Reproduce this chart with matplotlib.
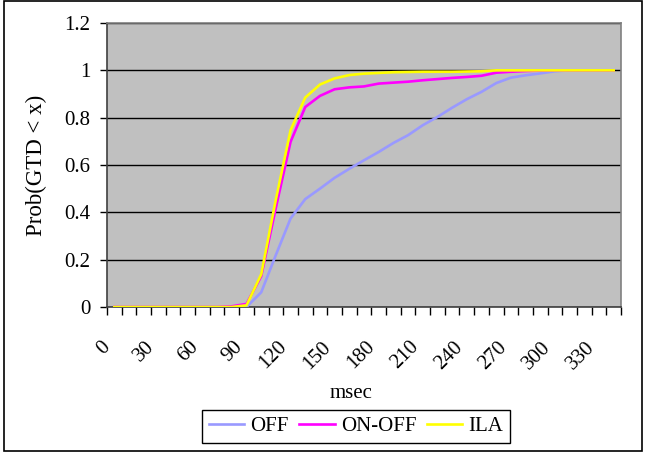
import matplotlib
matplotlib.use("Agg")
import matplotlib.pyplot as plt
from matplotlib.patches import Rectangle

# данные: вероятность Prob(GTD < x), шаг 10 мс
msec = list(range(0, 350, 10))
off = [0, 0, 0, 0, 0, 0, 0, 0, 0, 0,
       0.062, 0.22, 0.374, 0.456, 0.50, 0.546, 0.584, 0.62, 0.655, 0.693,
       0.726, 0.768, 0.803, 0.842, 0.878, 0.909, 0.946, 0.969, 0.979, 0.987,
       0.996, 1, 1, 1, 1]
on_off = [0, 0, 0, 0, 0, 0, 0, 0, 0.003, 0.013,
          0.13, 0.42, 0.698, 0.845, 0.892, 0.92, 0.928, 0.932, 0.944, 0.948,
          0.952, 0.958, 0.963, 0.968, 0.972, 0.977, 0.99, 0.994, 0.997, 0.999,
          1, 1, 1, 1, 1]
ila = [0, 0, 0, 0, 0, 0, 0, 0, 0, 0.007,
       0.138, 0.455, 0.747, 0.885, 0.94, 0.966, 0.98, 0.986, 0.989, 0.992,
       0.993, 0.994, 0.994, 0.994, 0.995, 0.996, 1, 1, 1, 1,
       1, 1, 1, 1, 1]
y_ticks = [0, 0.2, 0.4, 0.6, 0.8, 1, 1.2]
y_labels = ['0', '0.2', '0.4', '0.6', '0.8', '1', '1.2']

plt.rcParams['font.family'] = ['Liberation Serif', 'DejaVu Serif']
plt.rcParams['font.size'] = 15

fig = plt.figure(figsize=(6.45, 4.53), dpi=100)
ax = fig.add_axes([107 / 645, 1 - 307 / 453, 514 / 645, 284 / 453])
ax.set_facecolor('#C0C0C0')

idx = list(range(len(msec)))
ax.plot(idx, off, color='#9999FF', lw=1.9, label='OFF', zorder=3)
ax.plot(idx, on_off, color='#FF00FF', lw=1.9, label='ON-OFF', zorder=4)
ax.plot(idx, ila, color='#FFFF00', lw=1.9, label='ILA', zorder=5)

ax.set_xlim(-0.5, len(msec) - 0.5)
ax.set_ylim(0, 1.2)

# ось Y
ax.set_yticks(y_ticks)
ax.set_yticklabels(y_labels)
ax.tick_params(axis='y', direction='out', length=5, width=1, pad=7, color='black')
ax.yaxis.grid(True, color='black', lw=1)
ax.set_axisbelow(True)

# ось X: штрихи между категориями, подписи каждые 30 мс
ax.set_xticks([i - 0.5 for i in range(len(msec) + 1)])
ax.set_xticklabels([])
ax.tick_params(axis='x', which='major', direction='out', length=6, width=1, color='black')
lab_pos = [i for i, m in enumerate(msec) if m % 30 == 0]
ax.set_xticks(lab_pos, minor=True)
ax.set_xticklabels([str(msec[i]) for i in lab_pos], minor=True,
                   rotation=45, ha='right', va='top')
ax.tick_params(axis='x', which='minor', length=0, pad=22)

for s in ['top', 'right']:
    ax.spines[s].set_color('#808080')
for s in ['left', 'bottom']:
    ax.spines[s].set_color('#404040')
for s in ax.spines.values():
    s.set_linewidth(1.2)

ax.set_ylabel('Prob(GTD < x)', fontsize=16.5, va='center')
ax.yaxis.set_label_coords(-0.138, 0.5)
ax.set_xlabel('msec')
ax.xaxis.set_label_coords(0.475, -0.303)
ax.xaxis.label.set_va('center')

leg = ax.legend(loc='center', ncol=3, bbox_to_anchor=(356 / 645, 1 - 426.5 / 453),
                bbox_transform=fig.transFigure, frameon=True, fancybox=False,
                edgecolor='black', facecolor='white', framealpha=1,
                handlelength=1.7, handletextpad=0.3, columnspacing=0.5,
                borderpad=0.3, borderaxespad=0)
leg.get_frame().set_linewidth(1)

# рамка вокруг всей диаграммы
fig.patches.append(Rectangle((4 / 645, 2 / 453), 638 / 645, 450 / 453,
                             transform=fig.transFigure, fill=False,
                             edgecolor='black', lw=1.2))

fig.savefig('out.png', dpi=100)
